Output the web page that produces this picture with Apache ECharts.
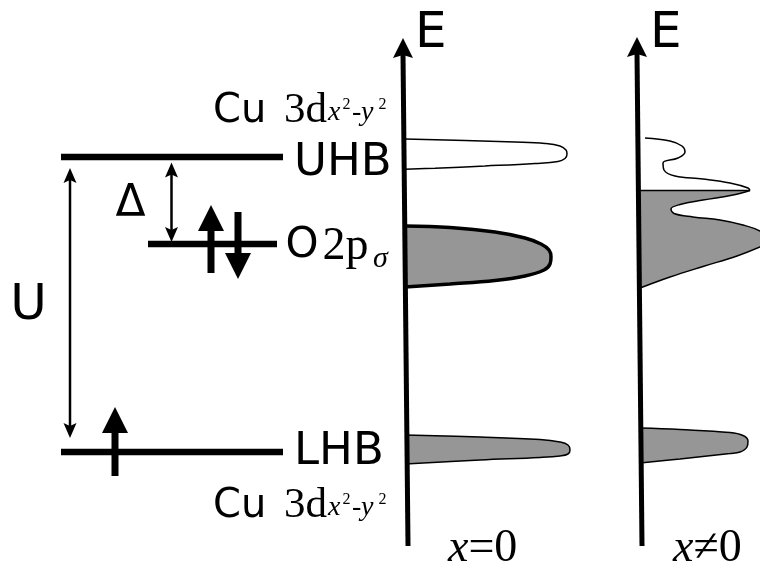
<!DOCTYPE html>
<html><head><meta charset="utf-8">
<script src="https://cdn.jsdelivr.net/npm/echarts@6/dist/echarts.min.js"></script>
<style>html,body{margin:0;padding:0;background:#fff}#c{width:760px;height:571px}</style>
</head><body><div id="c"></div>
<script>
const levelNames  = ['UHB', 'O 2pσ', 'LHB'];
const levelEnergy = [157, 244, 452];
const levelStart  = [61, 148, 61];
const levelEnd    = [283, 277, 283];

const gapNames  = ['U', 'Δ'];
const gapX      = [70, 171.5];
const gapTop    = [168, 162.5];
const gapBottom = [438, 242];

const spinX    = [211, 238, 115];
const spinTail = [273, 212, 476];
const spinTip  = [205, 279, 407];

const axisTipX    = [403, 637];
const axisTipY    = [38, 37];
const axisBottomX = [408, 642];
const axisBottomY = [546, 546];

// DOS curves: [dos (px from panel axis), energy]
const dosUHB0 = [[0,139],[60,140.5],[110,142],[140,143.5],[155,146],[161,150],[162,154],[160,158.5],[153,161.5],[130,163.5],[80,166],[30,168.2],[0,169.3]];
const dosO2p0 = [[0,226],[45,227.5],[90,232],[120,238],[136,244],[144,250],[146,257],[145,264],[139,270],[120,276],[90,280.5],[45,284],[0,287]];
const dosLHB0 = [[0,435],[75,437],[135,439.5],[155,442],[163,445],[165,450],[163,454],[155,456],[135,457.5],[75,460],[0,464]];

const dosUpperOpen1 = [[5,138],[30,141],[42,146],[45,152],[38,158],[23,163],[24,170],[35,176],[63,179],[90,183],[108,188],[110,190.5]];
const dosUpperEdge1 = [[0,190.5],[110,190.5]];
const dosUpperFill1 = [[110,190.5],[93,195],[63,200],[40,204.5],[31,209],[34,213.5],[53,217],[80,220],[103,225],[120,231],[128,238],[127,243],[120,247],[97,256],[63,266.5],[30,277],[8,285],[0,288]];
const dosLHB1 = [[0,428],[40,429.5],[90,432.5],[103,435.5],[108,441],[107,447],[100,452],[90,453.5],[40,459],[0,463]];

const panelLabels = ['x=0', 'x≠0'];

// ---------------- helpers ----------------
const SANS = "'DejaVu Sans'";
const SERIF = "'Liberation Serif'";
function head(tx, ty, d, L, W, n) {
  return {type:'polygon', shape:{points:[[tx,ty],[tx-W,ty+d*L],[tx,ty+d*(L-n)],[tx+W,ty+d*L]]}, style:{fill:'#000'}};
}
function txt(text, x, y, size, family, style, align) {
  return {type:'text', x:x, y:y, z:20, style:{text:text, font:(style||'normal')+' '+size+'px '+family, fill:'#000', align:align||'left', verticalAlign:'middle'}};
}
function cuLabel(b) {
  return [
    txt('Cu', 213, b-12.1, 40, SANS),
    txt('3d', 284, b-13.1, 43, SERIF),
    txt('x', 328, b-11.5, 28, SERIF, 'italic'),
    txt('2', 342.5, b-19, 16, SERIF),
    txt('-', 352, b-11.5, 28, SERIF),
    txt('y', 361, b-11.5, 28, SERIF, 'italic'),
    txt('2', 378.5, b-19, 16, SERIF)
  ];
}

const graphics = [].concat(
  [txt('E', 415, 34.5, 50, SANS), txt('E', 650, 34.5, 50, SANS)],
  cuLabel(124), cuLabel(519),
  [txt('UHB', 294, 163, 45, SANS), txt('LHB', 294, 452, 45, SANS),
   txt('O', 285.5, 246, 42, SANS), txt('2p', 322.5, 246.5, 46, SERIF), txt('σ', 373, 259, 30, SERIF, 'italic'),
   txt('Δ', 130.5, 205, 44, SANS, 'normal', 'center'), txt('U', 28.5, 306.5, 50, SANS, 'normal', 'center')],
  [{type:'text', x:448, y:549, z:20, style:{text:'{i|x}{n|=0}', rich:{i:{font:'italic 46px '+SERIF, fill:'#000'}, n:{font:'46px '+SERIF, fill:'#000'}}, verticalAlign:'middle', align:'left'}},
   {type:'text', x:673, y:549, z:20, style:{text:'{i|x}{n|≠0}', rich:{i:{font:'italic 46px '+SERIF, fill:'#000'}, n:{font:'46px '+SERIF, fill:'#000'}}, verticalAlign:'middle', align:'left'}}]
);

function dosSeries(name, data, gi, fill, lw) {
  const s = {type:'line', name:name, xAxisIndex:gi, yAxisIndex:gi, data:data, smooth:0.4, symbol:'none',
    lineStyle:{color:'#000', width:lw}, z:2, animation:false};
  if (fill) s.areaStyle = {color:'#969696', opacity:1};
  return s;
}

const chart = echarts.init(document.getElementById('c'), null, {renderer:'canvas'});
chart.setOption({
  backgroundColor:'#fff',
  animation:false,
  grid:[
    {left:0, top:0, right:0, bottom:0},
    {left:405, top:0, width:355, bottom:0},
    {left:640, top:0, width:120, bottom:0}
  ],
  xAxis:[
    {type:'value', gridIndex:0, min:0, max:760, show:false},
    {type:'value', gridIndex:1, min:0, max:355, show:false},
    {type:'value', gridIndex:2, min:0, max:120, show:false}
  ],
  yAxis:[
    {type:'value', gridIndex:0, min:0, max:571, inverse:true, show:false},
    {type:'time', gridIndex:1, min:0, max:571, inverse:true, show:false},
    {type:'time', gridIndex:2, min:0, max:571, inverse:true, show:false}
  ],
  graphic: graphics,
  series:[
    dosSeries('UHB x=0', dosUHB0, 1, false, 1.5),
    dosSeries('O 2p x=0', dosO2p0, 1, true, 3.5),
    dosSeries('LHB x=0', dosLHB0, 1, true, 1.5),
    dosSeries('upper x≠0 open', dosUpperOpen1, 2, false, 1.5),
    {type:'line', xAxisIndex:2, yAxisIndex:2, data:dosUpperEdge1, symbol:'none', lineStyle:{color:'#000', width:1.5}, z:3},
    dosSeries('upper x≠0 filled', dosUpperFill1, 2, true, 1.5),
    dosSeries('LHB x≠0', dosLHB1, 2, true, 1.5),
    {type:'custom', name:'levels', xAxisIndex:0, yAxisIndex:0, z:5,
      data: levelEnergy.map((e,i)=>[levelStart[i], e]),
      renderItem:function(params, api){
        const i = params.dataIndex;
        const p0 = api.coord([levelStart[i], levelEnergy[i]]);
        const p1 = api.coord([levelEnd[i], levelEnergy[i]]);
        return {type:'line', shape:{x1:p0[0], y1:p0[1], x2:p1[0], y2:p1[1]}, style:{stroke:'#000', lineWidth:6.5}};
      }},
    {type:'custom', name:'gaps', xAxisIndex:0, yAxisIndex:0, z:5,
      data: gapX.map((x,i)=>[x, gapTop[i]]),
      renderItem:function(params, api){
        const i = params.dataIndex;
        const t = api.coord([gapX[i], gapTop[i]]);
        const b = api.coord([gapX[i], gapBottom[i]]);
        return {type:'group', children:[
          {type:'line', shape:{x1:t[0], y1:t[1]+10, x2:b[0], y2:b[1]-10}, style:{stroke:'#000', lineWidth:2.5}},
          head(t[0], t[1], 1, 15, 6.5, 3),
          head(b[0], b[1], -1, 15, 6.5, 3)
        ]};
      }},
    {type:'custom', name:'spins', xAxisIndex:0, yAxisIndex:0, z:6,
      data: spinX.map((x,i)=>[x, spinTip[i]]),
      renderItem:function(params, api){
        const i = params.dataIndex;
        const tip = api.coord([spinX[i], spinTip[i]]);
        const tail = api.coord([spinX[i], spinTail[i]]);
        const d = tail[1] > tip[1] ? 1 : -1;
        return {type:'group', children:[
          {type:'line', shape:{x1:tail[0], y1:tail[1], x2:tip[0], y2:tip[1]+d*24}, style:{stroke:'#000', lineWidth:7}},
          head(tip[0], tip[1], d, 26, 13, 0)
        ]};
      }},
    {type:'custom', name:'energy axes', xAxisIndex:0, yAxisIndex:0, z:8,
      data: axisTipX.map((x,i)=>[x, axisTipY[i]]),
      renderItem:function(params, api){
        const i = params.dataIndex;
        const tip = api.coord([axisTipX[i], axisTipY[i]]);
        const bot = api.coord([axisBottomX[i], axisBottomY[i]]);
        return {type:'group', children:[
          {type:'line', shape:{x1:tip[0], y1:tip[1]+16, x2:bot[0], y2:bot[1]}, style:{stroke:'#000', lineWidth:5}},
          head(tip[0], tip[1], 1, 20, 10, 3)
        ]};
      }}
  ]
});
</script></body></html>
